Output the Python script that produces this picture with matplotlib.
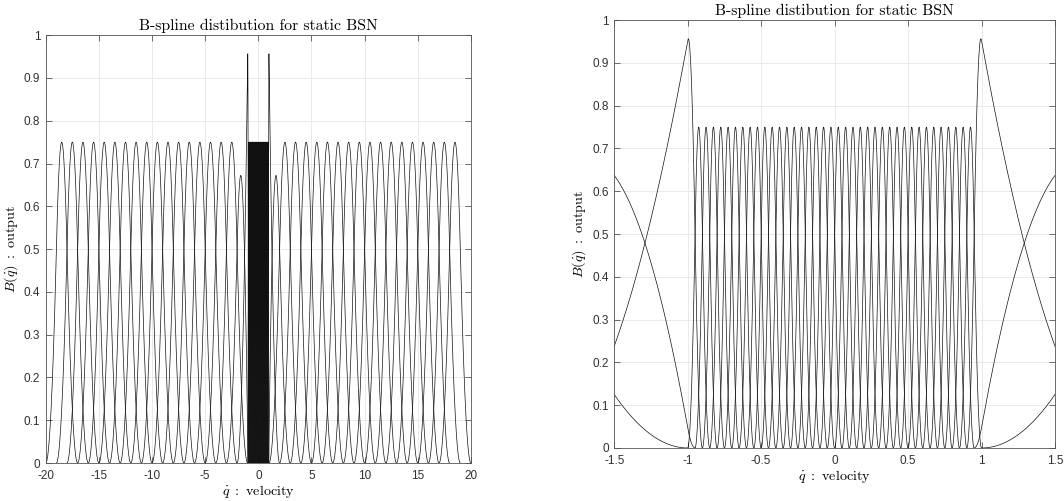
"""B-spline basis distribution for the static BSN (full range and zoom on the dense core)."""

import numpy as np
import matplotlib
matplotlib.use("Agg")
import matplotlib.pyplot as plt

plt.rcParams["mathtext.fontset"] = "cm"
plt.rcParams["axes.unicode_minus"] = False

# knot vector: coarse spacing 1 outside [-1, 1], fine spacing 0.05 inside
outerLeftKnots = [-20, -19, -18, -17, -16, -15, -14, -13, -12, -11,
                  -10, -9, -8, -7, -6, -5, -4, -3, -2, -1]
innerKnots = [-0.95, -0.90, -0.85, -0.80, -0.75, -0.70, -0.65, -0.60, -0.55, -0.50,
              -0.45, -0.40, -0.35, -0.30, -0.25, -0.20, -0.15, -0.10, -0.05, 0.0,
              0.05, 0.10, 0.15, 0.20, 0.25, 0.30, 0.35, 0.40, 0.45, 0.50,
              0.55, 0.60, 0.65, 0.70, 0.75, 0.80, 0.85, 0.90, 0.95]
outerRightKnots = [1, 2, 3, 4, 5, 6, 7, 8, 9, 10,
                   11, 12, 13, 14, 15, 16, 17, 18, 19, 20]
splineOrder = 2  # quadratic

titleText = "B-spline distibution for static BSN"
xLabelText = r"$\dot{q}\ :\ \mathrm{velocity}$"
yLabelText = r"$B(\dot{q})\ :\ \mathrm{output}$"

leftXTicks = [-20, -15, -10, -5, 0, 5, 10, 15, 20]
rightXTicks = [-1.5, -1, -0.5, 0, 0.5, 1, 1.5]
yTicks = [0, 0.1, 0.2, 0.3, 0.4, 0.5, 0.6, 0.7, 0.8, 0.9, 1]


# Cox-de Boor recursion for the i-th basis function of degree p
def basis(knots, i, p, x):
    if p == 0:
        return np.where((x >= knots[i]) & (x < knots[i + 1]), 1.0, 0.0)
    left = 0.0
    right = 0.0
    if knots[i + p] != knots[i]:
        left = (x - knots[i]) / (knots[i + p] - knots[i]) * basis(knots, i, p - 1, x)
    if knots[i + p + 1] != knots[i + 1]:
        right = (knots[i + p + 1] - x) / (knots[i + p + 1] - knots[i + 1]) * basis(knots, i + 1, p - 1, x)
    return left + right


def formatTick(v):
    return ("%g" % v)


def styleAxes(ax, xlim, xticks):
    ax.set_xlim(xlim)
    ax.set_ylim(0, 1)
    ax.set_xticks(xticks)
    ax.set_xticklabels([formatTick(t) for t in xticks], fontfamily="Liberation Sans")
    ax.set_yticks(yTicks)
    ax.set_yticklabels([formatTick(t) for t in yTicks], fontfamily="Liberation Sans")
    ax.grid(True, color="#e6e6e6", linewidth=0.6)
    ax.set_axisbelow(True)
    ax.tick_params(direction="in", top=True, right=True, length=4, width=0.6,
                   color="#555555", labelsize=8.5, labelcolor="#303030")
    ax.tick_params(axis="x", pad=5)
    ax.tick_params(axis="y", pad=4)
    for s in ax.spines.values():
        s.set_color("#555555")
        s.set_linewidth(0.6)
    ax.set_title(titleText, fontfamily="cmr10", fontsize=11.3, pad=4)
    ax.set_xlabel(xLabelText, fontsize=10.2, labelpad=1)
    ax.set_ylabel(yLabelText, fontsize=10.2, labelpad=3)


knots = np.array(outerLeftKnots + innerKnots + outerRightKnots, dtype=float)

fig = plt.figure(figsize=(10.64, 5.01), dpi=100)
axFull = fig.add_axes([0.043, 0.0758, 0.3996, 0.854])
axZoom = fig.add_axes([0.5773, 0.1058, 0.4142, 0.854])

for ax in (axFull, axZoom):
    for i in range(len(knots) - splineOrder - 1):
        lo = knots[i]
        hi = knots[i + splineOrder + 1]
        x = np.linspace(lo, hi, 400)
        y = basis(knots, i, splineOrder, x)
        y[-1] = 0.0
        ax.plot(x, y, color="#111111", linewidth=0.5)

styleAxes(axFull, (-20, 20), leftXTicks)
styleAxes(axZoom, (-1.5, 1.5), rightXTicks)

fig.savefig("out.png", dpi=100)
